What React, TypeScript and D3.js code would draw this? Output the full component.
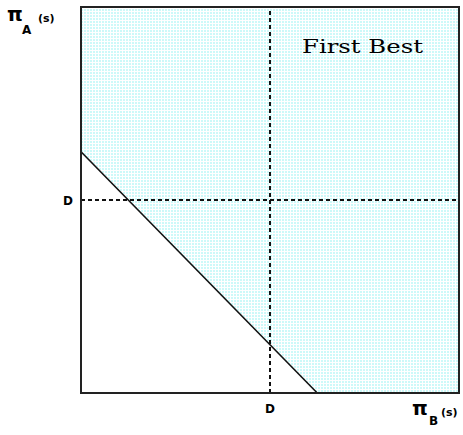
import React from "react";
import * as d3 from "d3";

const axisDomain = [0, 8];
const thresholdD = 4; // D on both axes
const budgetSum = 5; // line: piA + piB = 5
const axisLabels = { x: "B", y: "A" };
const tickLabel = "D";
const regionLabel = "First Best";

const W = 463;
const H = 435;
const L = 81, R = 459, T = 7, B = 393;

export default function App() {
  const x = d3.scaleLinear().domain(axisDomain).range([L, R]);
  const y = d3.scaleLinear().domain(axisDomain).range([B, T]);
  const [d0, d1] = axisDomain;

  const region: [number, number][] = [
    [d0, budgetSum],
    [d0, d1],
    [d1, d1],
    [d1, d0],
    [budgetSum, d0],
  ];
  const line = d3.line<[number, number]>().x((p) => x(p[0])).y((p) => y(p[1]));

  return (
    <svg width={W} height={H} style={{ position: "absolute", left: 0, top: 0, background: "#fff" }}>
      <defs>
        <pattern id="dots" width={3} height={3} patternUnits="userSpaceOnUse">
          <rect width={3} height={3} fill="#ffffff" />
          <rect width={2} height={2} fill="#cdf9f9" />
        </pattern>
      </defs>
      <path d={line(region) + "Z"} fill="url(#dots)" />
      <path d={line([[d0, budgetSum], [budgetSum, d0]]) || ""} stroke="#111" strokeWidth={1.6} fill="none" />
      <line x1={x(thresholdD)} x2={x(thresholdD)} y1={y(d0)} y2={y(d1)} stroke="#111" strokeWidth={2} strokeDasharray="4,3" />
      <line x1={x(d0)} x2={x(d1)} y1={y(thresholdD)} y2={y(thresholdD)} stroke="#111" strokeWidth={2} strokeDasharray="4,3" />
      <rect x={L} y={T} width={R - L} height={B - T} fill="none" stroke="#222" strokeWidth={2} />
      <text x={x(d0) - 8} y={y(thresholdD) + 5} textAnchor="end" fontFamily="DejaVu Sans" fontWeight="bold" fontSize={12}>{tickLabel}</text>
      <text x={x(thresholdD)} y={B + 20} textAnchor="middle" fontFamily="DejaVu Sans" fontWeight="bold" fontSize={12}>{tickLabel}</text>
      <text x={302} y={53} fontFamily="DejaVu Serif" fontSize={19} textLength={121} lengthAdjust="spacingAndGlyphs">{regionLabel}</text>
      <g fontFamily="DejaVu Sans" fontWeight="bold">
        <text x={7} y={21} fontSize={20}>π</text>
        <text x={22} y={34} fontSize={12}>{axisLabels.y}</text>
        <text x={38} y={22} fontSize={11}>(s)</text>
      </g>
      <g fontFamily="DejaVu Sans" fontWeight="bold">
        <text x={412} y={415} fontSize={20}>π</text>
        <text x={429} y={425} fontSize={12}>{axisLabels.x}</text>
        <text x={441} y={416} fontSize={11}>(s)</text>
      </g>
    </svg>
  );
}
